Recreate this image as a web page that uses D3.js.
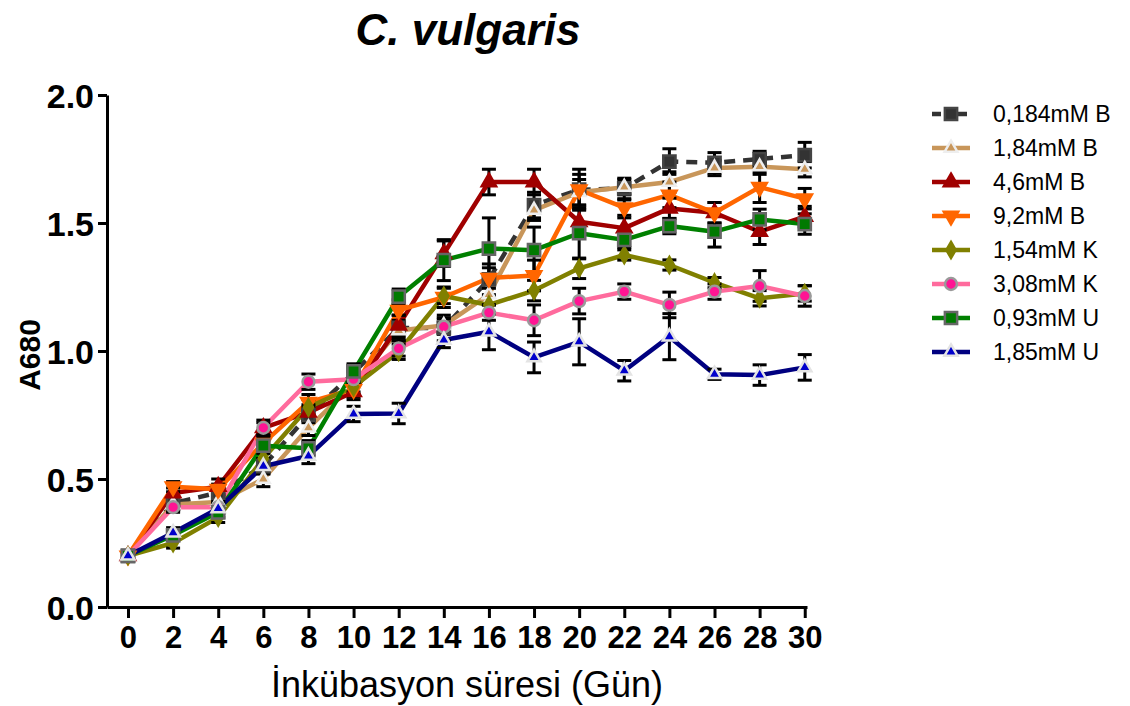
<!DOCTYPE html>
<html>
<head>
<meta charset="utf-8">
<script src="https://d3js.org/d3.v7.min.js"></script>
<style>
  body { margin: 0; background: #fff; }
  text { font-family: "Liberation Sans", Arial, sans-serif; }
</style>
</head>
<body>
<div id="chart"></div>
<script>
// incubation days
var days = [0, 2, 4, 6, 8, 10, 12, 14, 16, 18, 20, 22, 24, 26, 28, 30];
var yTicks = [0, 0.5, 1.0, 1.5, 2.0];

// A680 means and error per series
var b0184 = [0.20, 0.405, 0.447, 0.55, 0.75, 0.915, 1.09, 1.09, 1.28, 1.57, 1.63, 1.635, 1.74, 1.735, 1.75, 1.765];
var b0184Err = [0.01, 0.03, 0.03, 0.03, 0.03, 0.03, 0.05, 0.05, 0.06, 0.05, 0.06, 0.04, 0.05, 0.04, 0.03, 0.05];
var b184 = [0.20, 0.40, 0.41, 0.50, 0.70, 0.87, 1.08, 1.10, 1.22, 1.55, 1.62, 1.64, 1.66, 1.715, 1.72, 1.71];
var b184Err = [0.01, 0.02, 0.02, 0.03, 0.03, 0.03, 0.03, 0.03, 0.04, 0.04, 0.05, 0.03, 0.04, 0.03, 0.03, 0.03];
var b46 = [0.20, 0.445, 0.47, 0.70, 0.76, 0.84, 1.10, 1.38, 1.66, 1.66, 1.505, 1.48, 1.557, 1.54, 1.466, 1.525];
var b46Err = [0.01, 0.02, 0.03, 0.02, 0.03, 0.03, 0.04, 0.05, 0.05, 0.05, 0.05, 0.04, 0.04, 0.04, 0.05, 0.04];
var b92 = [0.20, 0.47, 0.46, 0.64, 0.80, 0.85, 1.16, 1.21, 1.285, 1.295, 1.63, 1.56, 1.61, 1.54, 1.64, 1.595];
var b92Err = [0.01, 0.02, 0.02, 0.03, 0.03, 0.03, 0.04, 0.04, 0.04, 0.06, 0.08, 0.03, 0.05, 0.04, 0.06, 0.04];
var k154 = [0.20, 0.25, 0.35, 0.58, 0.78, 0.86, 0.997, 1.215, 1.18, 1.236, 1.323, 1.375, 1.336, 1.267, 1.206, 1.225];
var k154Err = [0.01, 0.02, 0.02, 0.03, 0.03, 0.03, 0.03, 0.03, 0.03, 0.04, 0.04, 0.02, 0.02, 0.02, 0.03, 0.03];
var k308 = [0.20, 0.39, 0.39, 0.70, 0.88, 0.89, 1.01, 1.095, 1.15, 1.12, 1.195, 1.232, 1.18, 1.232, 1.254, 1.215];
var k308Err = [0.01, 0.02, 0.02, 0.03, 0.03, 0.03, 0.03, 0.03, 0.03, 0.06, 0.05, 0.03, 0.05, 0.03, 0.06, 0.04];
var u093 = [0.20, 0.28, 0.37, 0.63, 0.62, 0.92, 1.212, 1.355, 1.40, 1.394, 1.46, 1.434, 1.488, 1.466, 1.514, 1.496];
var u093Err = [0.01, 0.02, 0.02, 0.03, 0.03, 0.03, 0.03, 0.08, 0.12, 0.09, 0.10, 0.03, 0.03, 0.06, 0.04, 0.04];
var u185 = [0.20, 0.29, 0.385, 0.55, 0.59, 0.754, 0.756, 1.043, 1.075, 0.975, 1.036, 0.923, 1.056, 0.909, 0.906, 0.936];
var u185Err = [0.01, 0.02, 0.02, 0.03, 0.03, 0.03, 0.04, 0.03, 0.07, 0.06, 0.09, 0.04, 0.09, 0.02, 0.04, 0.05];

var series = [
  {name: "0,184mM B", vals: b0184, err: b0184Err, line: "#333333", dash: "11,8", sym: d3.symbolSquare, size: 150, fill: "#333333", stroke: "#444"},
  {name: "1,84mM B", vals: b184, err: b184Err, line: "#c8965a", sym: d3.symbolTriangle, size: 70, fill: "#c8965a", stroke: "#eee"},
  {name: "4,6mM B", vals: b46, err: b46Err, line: "#a00000", sym: d3.symbolTriangle, size: 90, fill: "#a00000", stroke: "#a00000"},
  {name: "9,2mM B", vals: b92, err: b92Err, line: "#ff6600", sym: d3.symbolTriangle, size: 90, fill: "#ff6600", stroke: "#ff6600", flip: true},
  {name: "1,54mM K", vals: k154, err: k154Err, line: "#808000", sym: d3.symbolDiamond, size: 75, fill: "#808000", stroke: "#808000"},
  {name: "3,08mM K", vals: k308, err: k308Err, line: "#ff6b9d", sym: d3.symbolCircle, size: 110, fill: "#ff1493", stroke: "#9a9a9a"},
  {name: "0,93mM U", vals: u093, err: u093Err, line: "#008000", sym: d3.symbolSquare, size: 150, fill: "#007a00", stroke: "#666"},
  {name: "1,85mM U", vals: u185, err: u185Err, line: "#000080", sym: d3.symbolTriangle, size: 75, fill: "#0000cc", stroke: "#e4e4e4"}
];

var W = 1130, H = 706;
var svg = d3.select("#chart").append("svg").attr("width", W).attr("height", H);

var x = d3.scaleLinear().domain([-0.93, 30.1]).range([107, 807]);
var y = d3.scaleLinear().domain([0, 2]).range([607, 95]);

// title
svg.append("text")
  .attr("x", 468).attr("y", 45)
  .attr("text-anchor", "middle")
  .attr("font-size", "44px").attr("font-weight", "bold").attr("font-style", "italic")
  .text("C. vulgaris");

// axes
var xAxis = svg.append("g").attr("transform", "translate(0,607)")
  .call(d3.axisBottom(x).tickValues(days).tickSize(11).tickSizeOuter(0).tickPadding(8));
var yAxis = svg.append("g").attr("transform", "translate(107,0)")
  .call(d3.axisLeft(y).tickValues(yTicks).tickSize(9).tickSizeOuter(0).tickPadding(4).tickFormat(d3.format(".1f")));

[xAxis, yAxis].forEach(function(a) {
  a.select(".domain").attr("stroke", "#000").attr("stroke-width", 3);
  a.selectAll(".tick line").attr("stroke", "#000").attr("stroke-width", 3);
  a.selectAll(".tick text").attr("fill", "#000").attr("font-weight", "bold")
    .attr("font-family", "'Liberation Sans', Arial, sans-serif");
});
xAxis.selectAll(".tick text").attr("font-size", "31px");
yAxis.selectAll(".tick text").attr("font-size", "34px").attr("dy", "0.36em");

// axis titles
svg.append("text")
  .attr("transform", "translate(40,355) rotate(-90)")
  .attr("text-anchor", "middle")
  .attr("font-size", "30px").attr("font-weight", "bold")
  .text("A680");

svg.append("text")
  .attr("x", 467).attr("y", 697)
  .attr("text-anchor", "middle")
  .attr("font-size", "36px")
  .text("İnkübasyon süresi (Gün)");

var line = d3.line().x(function(d) { return x(d.day); }).y(function(d) { return y(d.v); });

function pts(s) {
  return days.map(function(d, i) { return {day: d, v: s.vals[i], e: s.err[i]}; });
}

var plot = svg.append("g");

// lines
series.forEach(function(s) {
  plot.append("path")
    .datum(pts(s))
    .attr("fill", "none")
    .attr("stroke", s.line)
    .attr("stroke-width", 4.5)
    .attr("stroke-linejoin", "round")
    .attr("stroke-dasharray", s.dash || null)
    .attr("d", line);
});

// error bars
series.forEach(function(s) {
  var g = plot.append("g").attr("stroke", "#000").attr("stroke-width", 3);
  pts(s).forEach(function(p) {
    var cx = x(p.day);
    g.append("line").attr("x1", cx).attr("x2", cx).attr("y1", y(p.v + p.e)).attr("y2", y(p.v - p.e));
    g.append("line").attr("x1", cx - 7).attr("x2", cx + 7).attr("y1", y(p.v + p.e)).attr("y2", y(p.v + p.e));
    g.append("line").attr("x1", cx - 7).attr("x2", cx + 7).attr("y1", y(p.v - p.e)).attr("y2", y(p.v - p.e));
  });
});

// markers
function marker(g, s, cx, cy) {
  g.append("path")
    .attr("d", d3.symbol().type(s.sym).size(s.size)())
    .attr("transform", "translate(" + cx + "," + cy + ")" + (s.flip ? " rotate(180)" : ""))
    .attr("fill", s.fill)
    .attr("stroke", s.stroke)
    .attr("stroke-width", 2.5);
}
series.forEach(function(s) {
  var g = plot.append("g");
  pts(s).forEach(function(p) { marker(g, s, x(p.day), y(p.v)); });
});

// legend
var legend = svg.append("g");
series.forEach(function(s, i) {
  var ly = 114 + i * 34;
  legend.append("line")
    .attr("x1", 932).attr("x2", 970).attr("y1", ly).attr("y2", ly)
    .attr("stroke", s.line).attr("stroke-width", 4.5)
    .attr("stroke-dasharray", s.dash ? "9,4" : null);
  marker(legend, s, 951, ly);
  legend.append("text")
    .attr("x", 993).attr("y", ly).attr("dy", "0.36em")
    .attr("font-size", "23px")
    .text(s.name);
});
</script>
</body>
</html>
